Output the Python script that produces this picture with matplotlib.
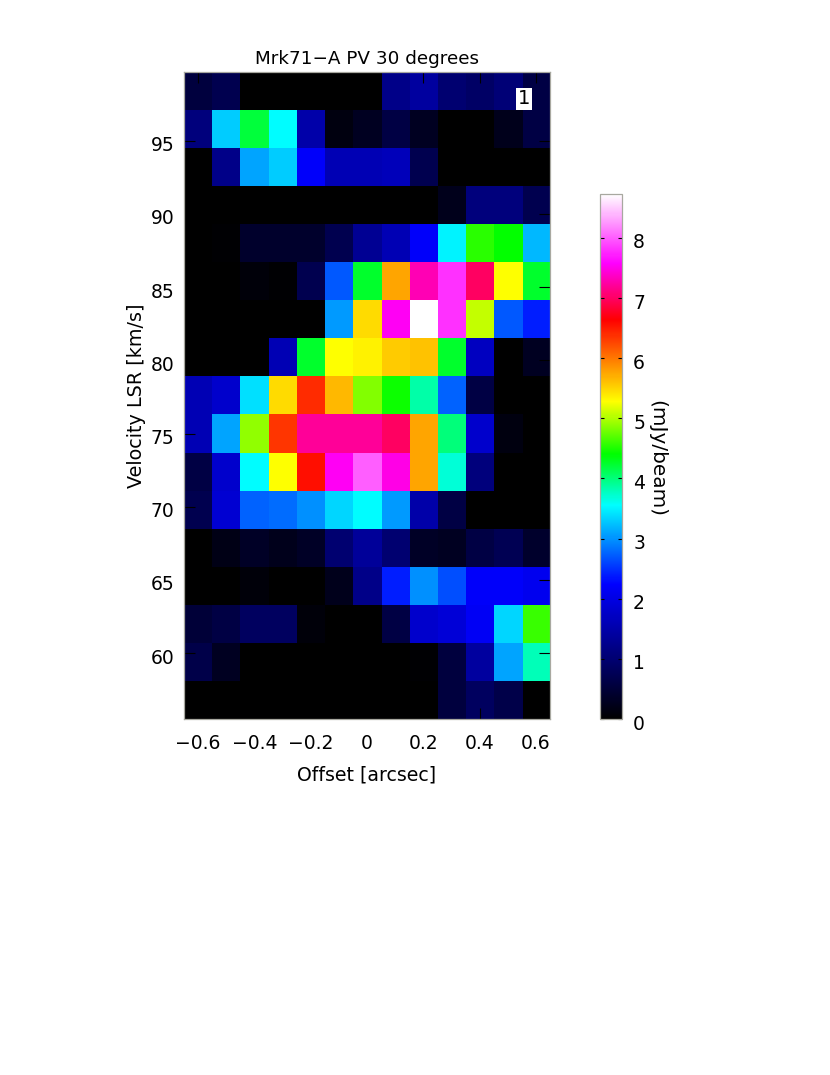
import numpy as np
import matplotlib
matplotlib.use("Agg")
import matplotlib.pyplot as plt
from matplotlib.colors import LinearSegmentedColormap, Normalize
from matplotlib.cm import ScalarMappable
from matplotlib.transforms import ScaledTranslation

offsets = [-0.6, -0.5, -0.4, -0.3, -0.2, -0.1, 0.0, 0.1, 0.2, 0.3, 0.4, 0.5, 0.6]
velocities = [98.4, 95.8, 93.2, 90.6, 88.0, 85.4, 82.8, 80.2, 77.6, 75.0, 72.4, 69.8, 67.2, 64.6, 62.0, 59.4, 56.8]

row_98 = [0.55, 0.7, 0, 0, 0, 0, 0, 1.2, 1.4, 1.0, 0.9, 1.05, 0.6]
row_96 = [1.1, 3.3, 4.2, 3.56, 1.5, 0.15, 0.3, 0.6, 0.3, 0, 0, 0.25, 0.6]
row_93 = [0, 1.2, 3.1, 3.3, 2.2, 1.6, 1.6, 1.65, 0.7, 0, 0, 0, 0]
row_91 = [0, 0, 0, 0, 0, 0, 0, 0, 0, 0.25, 1.1, 1.1, 0.7]
row_88 = [0, 0.05, 0.4, 0.4, 0.4, 0.7, 1.3, 1.6, 2.2, 3.5, 4.55, 4.4, 3.2]
row_85 = [0, 0, 0.1, 0.05, 0.7, 2.7, 4.25, 5.75, 7.3, 7.8, 7.0, 5.28, 4.25]
row_83 = [0, 0, 0, 0, 0, 3.05, 5.47, 7.55, 8.73, 7.8, 5.08, 2.7, 2.4]
row_80 = [0, 0, 0, 1.6, 4.25, 5.28, 5.35, 5.55, 5.6, 4.25, 1.7, 0.0, 0.3]
row_78 = [1.6, 1.8, 3.4, 5.47, 6.4, 5.65, 4.85, 4.45, 3.85, 2.75, 0.6, 0, 0]
row_75 = [1.6, 3.1, 4.9, 6.35, 7.2, 7.2, 7.2, 7.0, 5.75, 4.0, 1.8, 0.15, 0]
row_72 = [0.6, 1.8, 3.55, 5.28, 6.55, 7.55, 8.0, 7.5, 5.75, 3.7, 1.1, 0, 0]
row_70 = [0.7, 1.85, 2.75, 2.8, 3.0, 3.35, 3.55, 3.05, 1.5, 0.6, 0, 0, 0]
row_67 = [0, 0.2, 0.35, 0.25, 0.35, 1.0, 1.35, 1.0, 0.35, 0.3, 0.6, 0.75, 0.4]
row_65 = [0, 0, 0.1, 0, 0, 0.25, 1.2, 2.4, 3.0, 2.65, 2.2, 2.2, 2.1]
row_62 = [0.5, 0.6, 0.85, 0.85, 0.1, 0, 0, 0.6, 1.8, 1.9, 2.15, 3.35, 4.6]
row_59 = [0.65, 0.3, 0, 0, 0, 0, 0, 0, 0.05, 0.55, 1.4, 3.1, 3.8]
row_57 = [0, 0, 0, 0, 0, 0, 0, 0, 0, 0.55, 0.85, 0.65, 0]

rows = [row_98, row_96, row_93, row_91, row_88, row_85, row_83, row_80, row_78,
        row_75, row_72, row_70, row_67, row_65, row_62, row_59, row_57]

x_ticks = [-0.6, -0.4, -0.2, 0, 0.2, 0.4, 0.6]
x_labels = ["\u22120.6", "\u22120.4", "\u22120.2", "0", "0.2", "0.4", "0.6"]
y_ticks = [60, 65, 70, 75, 80, 85, 90, 95]
c_ticks = [0, 1, 2, 3, 4, 5, 6, 7, 8]
vmax = 8.73

anchors = [(0, "#000000"), (2.24, "#0000ff"), (3.56, "#00ffff"), (4.4, "#00ff00"),
           (5.28, "#ffff00"), (6.64, "#ff0000"), (7.59, "#ff00ff"), (8.73, "#ffffff")]
cmap = LinearSegmentedColormap.from_list("pv", [(v / vmax, c) for v, c in anchors], N=512)
norm = Normalize(0, vmax)

W, H = 830, 1075
fig = plt.figure(figsize=(W / 100, H / 100), dpi=100)
plt.rcParams["font.family"] = "DejaVu Sans"
edge = "#a8a8a0"
down3 = ScaledTranslation(0, -3 / 100, fig.dpi_scale_trans)

ax = fig.add_axes([184 / W, 1 - 719 / H, 366 / W, 647 / H])
ax.imshow(np.array(rows, dtype=float), cmap=cmap, norm=norm, aspect="auto",
          interpolation="nearest",
          extent=[offsets[0] - 0.05, offsets[-1] + 0.05,
                  velocities[-1] - 1.3, velocities[0] + 1.3])
ax.set_xlim(-0.65, 0.65)
ax.set_ylim(velocities[-1] - 1.3, velocities[0] + 1.3)
ax.set_xticks(x_ticks, x_labels)
ax.set_yticks(y_ticks)
ax.tick_params(axis="both", direction="in", top=True, right=True, length=8,
               width=0.8, color="black", labelsize=13.5)
ax.tick_params(axis="y", pad=7)
ax.tick_params(axis="x", pad=11)
for lab in ax.get_yticklabels():
    lab.set_transform(lab.get_transform() + down3)
for s in ax.spines.values():
    s.set_color(edge)
    s.set_linewidth(0.9)
ax.set_title("Mrk71\u2212A PV 30 degrees", fontsize=13.2, pad=6)
ax.set_xlabel("Offset [arcsec]", fontsize=13.6, labelpad=9)
ax.set_ylabel("Velocity LSR [km/s]", fontsize=13.75, labelpad=3)
ax.text((524 - 184) / 366, (719 - 99) / 647, "1", transform=ax.transAxes, fontsize=14,
        ha="center", va="center",
        bbox=dict(boxstyle="square,pad=0.1", fc="white", ec="none"))

cax = fig.add_axes([600 / W, 1 - 719 / H, 22 / W, 525 / H])
cb = fig.colorbar(ScalarMappable(norm=norm, cmap=cmap), cax=cax)
cb.set_ticks(c_ticks)
cb.ax.tick_params(direction="in", left=True, right=True, length=3, width=0.8,
                  color="black", labelsize=13.5, pad=8)
for lab in cb.ax.get_yticklabels():
    lab.set_transform(lab.get_transform() + down3)
cb.outline.set_edgecolor(edge)
cb.outline.set_linewidth(0.9)
cb.set_label("(mJy/beam)", rotation=270, fontsize=14.4, labelpad=15, y=0.497)

fig.savefig("out.png", dpi=100)
